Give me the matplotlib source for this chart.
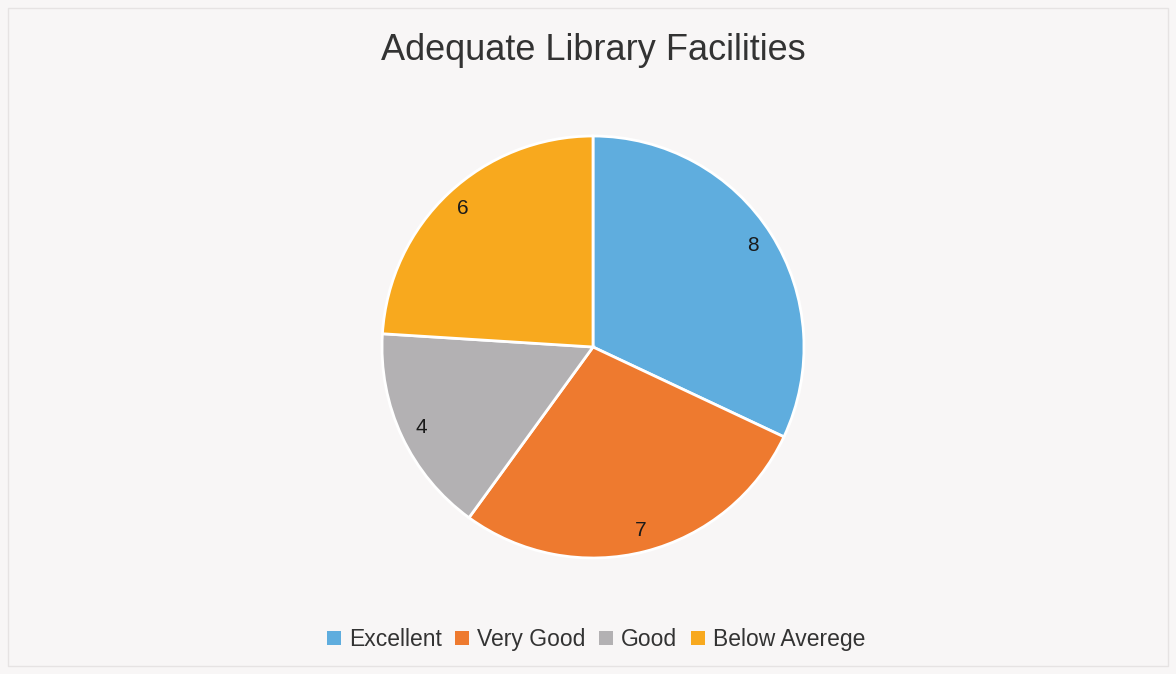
import matplotlib
matplotlib.use("Agg")
import matplotlib.pyplot as plt
from matplotlib.patches import Patch, Rectangle

categories = ["Excellent", "Very Good", "Good", "Below Averege"]
values = [8, 7, 4, 6]
colors = ["#5FADDE", "#EE7A2F", "#B3B1B3", "#F8A91E"]
title = "Adequate Library Facilities"

plt.rcParams['font.family'] = 'Liberation Sans'

W, H = 1176, 674
fig = plt.figure(figsize=(W / 100, H / 100), dpi=100)
fig.patch.set_facecolor("#F8F6F6")

# faint outer frame
fig.add_artist(Rectangle((8 / W, 8 / H), 1 - 16 / W, 1 - 16 / H, transform=fig.transFigure,
                         fill=False, edgecolor="#E6E3E3", linewidth=1))

cx, cy, r = 593, 347, 211
ax = fig.add_axes([(cx - r) / W, (H - cy - r) / H, 2 * r / W, 2 * r / H])
total = sum(values)
ax.pie(values, colors=colors, startangle=90, counterclock=False, radius=1,
       autopct=lambda p: f"{round(p * total / 100):d}", pctdistance=0.9,
       textprops=dict(fontsize=15, color="#1a1a1a"),
       wedgeprops=dict(edgecolor="white", linewidth=2))
ax.set_xlim(-1, 1)
ax.set_ylim(-1, 1)
ax.set_aspect("equal")
ax.axis("off")

fig.text(593 / W, 1 - 50 / H, title, ha="center", va="center", fontsize=26, color="#333333")

handles = [Patch(facecolor=c, edgecolor="none") for c in colors]
fig.legend(handles, categories, loc="center", bbox_to_anchor=(596 / W, 34.25 / H), ncol=4,
           frameon=False, fontsize=16.5, handlelength=0.6, handleheight=0.6, handletextpad=0.35,
           columnspacing=0.6, labelcolor="#333333")

fig.savefig("out.png", dpi=100, facecolor=fig.get_facecolor())
